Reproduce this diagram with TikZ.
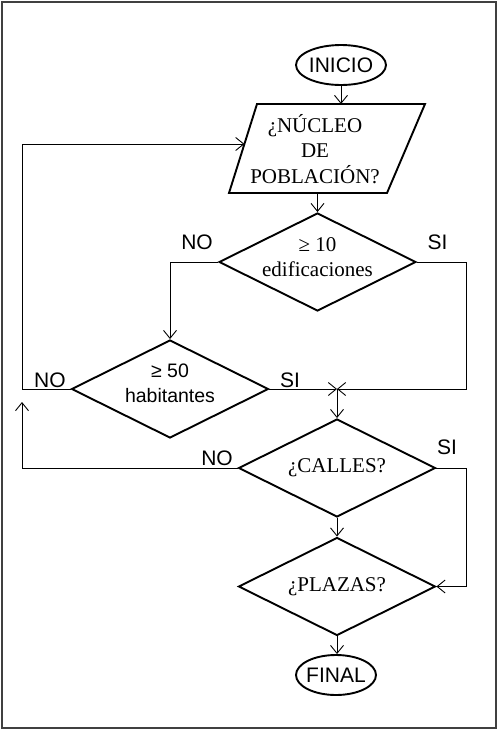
\documentclass[tikz,border=0pt]{standalone}
\usepackage{fontspec}
\setmainfont{Liberation Serif}
\newfontfamily\arialfont{Liberation Sans}
\usetikzlibrary{shapes.geometric,arrows.meta}

\begin{document}
\begin{tikzpicture}[x=1pt,y=-1pt,line join=miter,
    font=\fontsize{21}{25.5}\selectfont,
    flow/.style={line width=0.9pt,-{Straight Barb[length=8pt,width=13pt]}},
    decision/.style={draw,diamond,line width=1.9pt,shape aspect=2,inner sep=-6pt,
        minimum width=197pt,minimum height=98pt,align=center},
    terminal/.style={draw,ellipse,line width=1.9pt,inner sep=-1.5pt,minimum height=40pt,
        font=\arialfont\fontsize{21}{24}\selectfont},
    lbl/.style={font=\arialfont\fontsize{21}{24}\selectfont}]

    \useasboundingbox (0,0) rectangle (497,729);
    \draw[line width=2pt,black!75] (1.5,1.5) rectangle (495.5,727.5);

    % paralelogramo de entrada
    \path
    (229,193) coordinate (pbl)
    (257,104) coordinate (ptl)
    (425,104) coordinate (ptr)
    (387,193) coordinate (pbr)
    (244.4,144) coordinate (pin);
    \draw[line width=1.9pt] (pbl) -- (ptl) -- (ptr) -- (pbr) -- cycle;
    \node[align=center] (nucleo) at (315,149) {¿NÚCLEO\\DE\\POBLACIÓN?};

    % bloques
    \node[terminal,minimum width=90pt] (inicio) at (341,65) {INICIO};
    \node[decision,text depth=10pt] (edif) at (317.5,262) {≥ 10\\edificaciones};
    \node[decision,text depth=12pt,font=\arialfont\fontsize{19.5}{25}\selectfont] (habit) at (170,389) {≥ 50\\habitantes};
    \node[decision] (calles) at (337,468) {¿CALLES?};
    \node[decision] (plazas) at (337,586.5) {¿PLAZAS?};
    \node[terminal,minimum width=80pt] (final) at (336,675) {FINAL};

    \path
    (22,0) coordinate (lrail)
    (466,0) coordinate (rrail)
    (22,402) coordinate (back)
    (calles.north |- habit.east) coordinate (merge);

    % conectores
    \draw[flow] (inicio.south) -- (inicio.south |- ptl);
    \draw[flow] (edif.north |- pbl) -- (edif.north);
    \draw[flow] (edif.west) -| (habit.north);
    \draw[flow] (edif.east) -| (rrail |- merge) -- (merge);
    \draw[flow] (habit.east) -- (merge);
    \draw[flow] (merge) -- (calles.north);
    \draw[flow] (habit.west) -- (lrail |- habit.west) |- (pin);
    \draw[flow] (calles.west) -| (back);
    \draw[flow] (calles.east) -| (rrail |- plazas.east) -- (plazas.east);
    \draw[flow] (calles.south) -- (plazas.north);
    \draw[flow] (plazas.south) -- (plazas.south |- final.north);

    % etiquetas
    \node[lbl] (no1) at (197,242) {NO};
    \node[lbl] (si1) at (437.5,242) {SI};
    \node[lbl] (no2) at (50,380) {NO};
    \node[lbl] (si2) at (290,380) {SI};
    \node[lbl] (no3) at (217,458) {NO};
    \node[lbl] (si3) at (447,447) {SI};
\end{tikzpicture}
\end{document}
